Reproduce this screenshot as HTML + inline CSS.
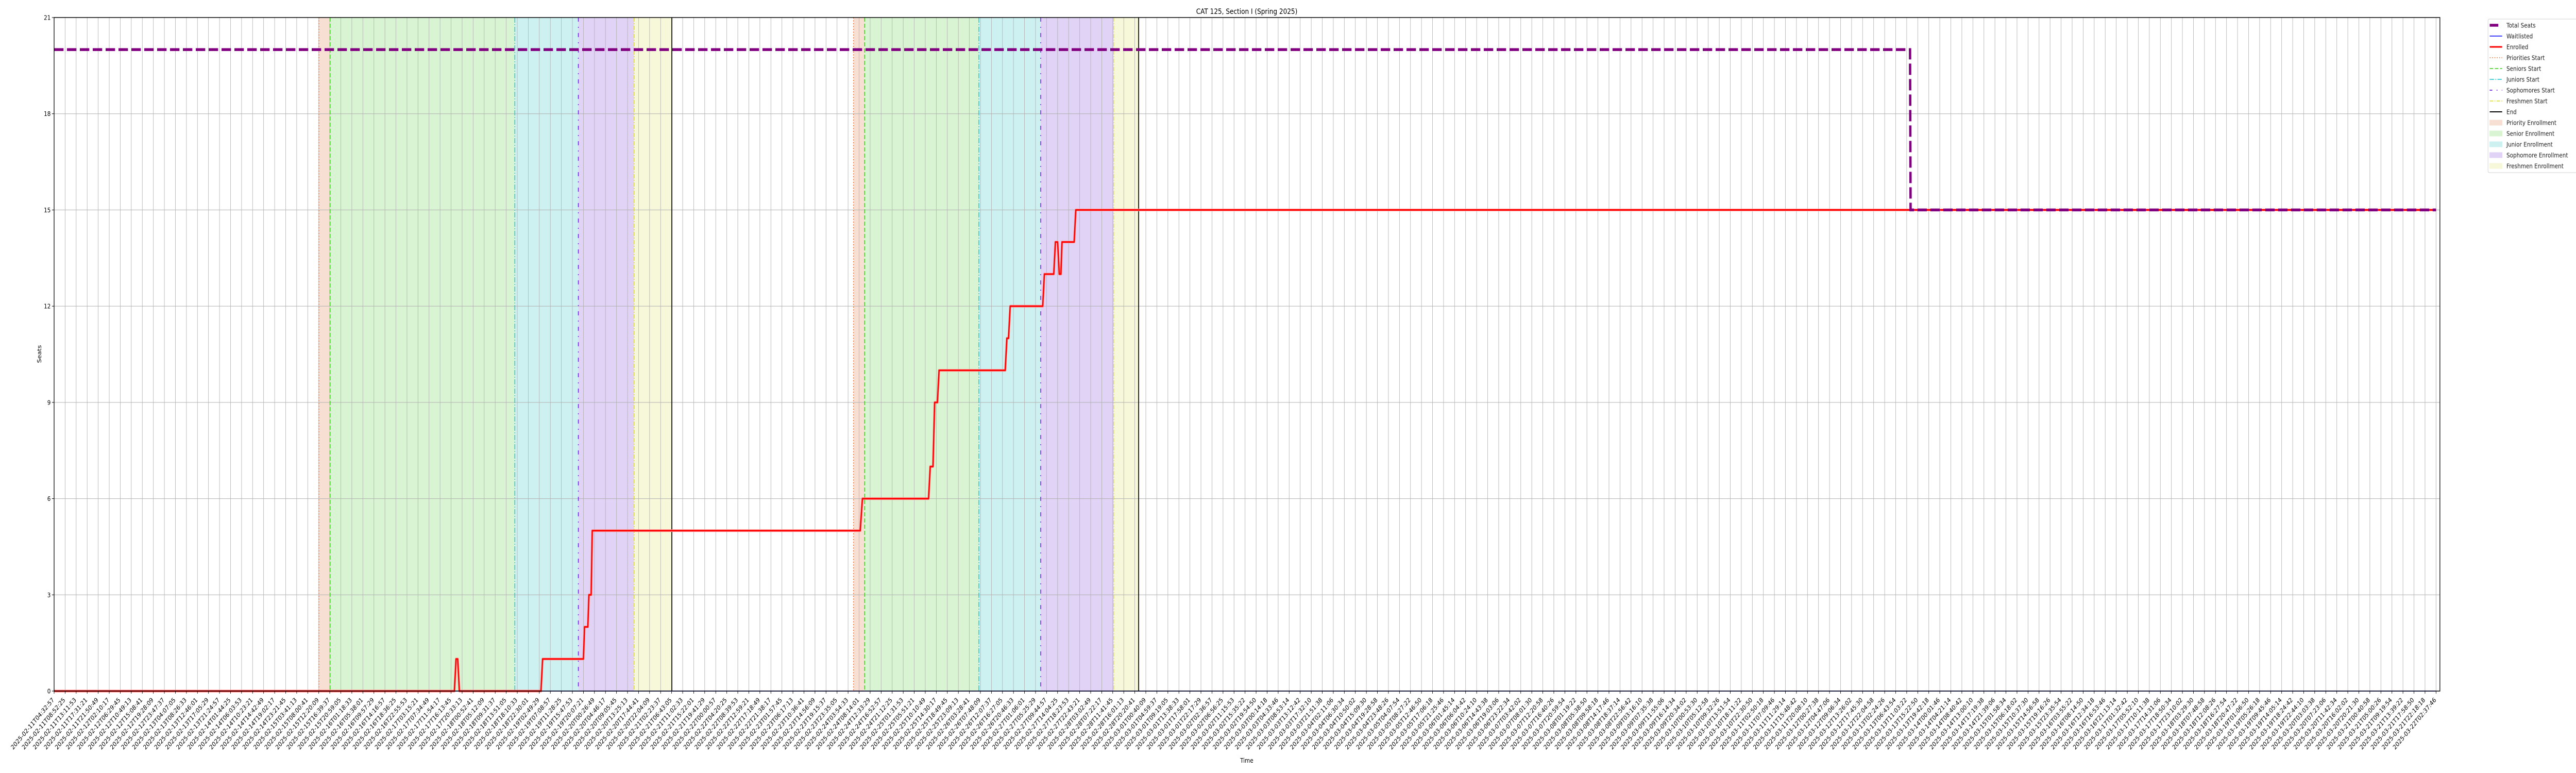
<!DOCTYPE html>
<html><head><meta charset="utf-8"><title>CAT 125 enrollment</title>
<style>
html,body{margin:0;padding:0;background:#fff;width:100%;height:100%;overflow:hidden;}
svg{display:block;position:fixed;left:0;top:0;width:100vw;height:100vh;font-family:"DejaVu Sans","Liberation Sans",sans-serif;}
</style></head>
<body>
<svg id="chart" viewBox="0 0 6000 1500" preserveAspectRatio="none" xmlns="http://www.w3.org/2000/svg">
<rect x="0" y="0" width="6000" height="1500" fill="#fff"/>
<g id="spans"></g>
<g id="grid"></g>
<g id="vlines"></g>
<g id="series"></g>
<g id="axes"></g>
<text x="2904" y="27" font-size="14.5" text-anchor="middle" fill="#000">CAT 125, Section I (Spring 2025)</text>
<text x="2904" y="1480" font-size="12.5" text-anchor="middle" fill="#000">Time</text>
<text x="0" y="0" font-size="12.5" text-anchor="middle" fill="#000" transform="translate(96,687) rotate(-90)">Seats</text>
<g id="legend"></g>
</svg>
<script>
// ---- data ----
const yTicks = [0, 3, 6, 9, 12, 15, 18, 21];
const tickCount = 217;
const startLabelTime = Date.UTC(2025, 1, 11, 4, 32, 57);
const endLabelTime = Date.UTC(2025, 2, 22, 2, 37, 46);
// x positions are in tick-index units
const seatsX = [0, 168.3, 168.35, 216];
const seatsY = [20, 20, 15, 15];
const waitX = [0, 216];
const waitY = [0, 0];
const enrolledX = [0, 36.3, 36.45, 36.6, 36.75, 44.15, 44.3, 48.0, 48.1, 48.4, 48.5, 48.7, 48.8, 73.1, 73.3, 79.3, 79.45, 79.7, 79.85, 80.1, 80.25, 86.25, 86.4, 86.55, 86.7, 89.65, 89.8, 90.65, 90.8, 91.0, 91.15, 91.3, 91.4, 92.5, 92.65, 216];
const enrolledY = [0, 0, 1, 1, 0, 0, 1, 1, 2, 2, 3, 3, 5, 5, 6, 6, 7, 7, 9, 9, 10, 10, 11, 11, 12, 12, 13, 13, 14, 14, 13, 13, 14, 14, 15, 15];
const phaseNames = ['priority', 'senior', 'junior', 'sophomore', 'freshmen'];
const cycle1Bounds = [24.02, 25.03, 41.78, 47.54, 52.6, 56.02];
const cycle2Bounds = [72.49, 73.5, 83.86, 89.47, 96.09, 98.35];

// ---- layout ----
const L = 126, R = 5683, T = 34, B = 1341;
const tickStep = (5674 - L) / 216;
const xS = i => L + i * tickStep;
const yS = v => B - v * (B - T) / 21;
const NS = 'http://www.w3.org/2000/svg';
function mk(tag, attrs, parent) {
  const e = document.createElementNS(NS, tag);
  for (const k in attrs) e.setAttribute(k, attrs[k]);
  parent.appendChild(e);
  return e;
}
const spanFill = ['#f7dfd3', '#d9f4d2', '#cdf0f1', '#e0d3f5', '#f7f7d9'];
const startStyle = [
  {c: '#f0672a', d: '2,3.5', w: 1.6},
  {c: '#33cc11', d: '8,4', w: 1.6},
  {c: '#11c4cc', d: '10,3,2,3', w: 1.6},
  {c: '#6a22dd', d: '8,10,2,10', w: 1.8},
  {c: '#dddd22', d: '8,3,2,3', w: 1.6}
];

const spans = document.getElementById('spans');
const vlines = document.getElementById('vlines');
[cycle1Bounds, cycle2Bounds].forEach((bounds, ci) => {
  for (let p = 0; p < 5; p++) {
    const r = mk('rect', {x: xS(bounds[p]), y: T, width: xS(bounds[p + 1]) - xS(bounds[p]), height: B - T, fill: spanFill[p]}, spans);
    
    
  }
});
const grid = document.getElementById('grid');
for (let i = 0; i < tickCount; i++) {
  const g = mk('line', {x1: xS(i), x2: xS(i), y1: T, y2: B, stroke: '#b0b0b0', 'stroke-width': 1}, grid);
  
  
}
yTicks.forEach(v => {
  const g = mk('line', {x1: L, x2: R, y1: yS(v), y2: yS(v), stroke: '#b0b0b0', 'stroke-width': 1}, grid);
  
  
});
[cycle1Bounds, cycle2Bounds].forEach((bounds, ci) => {
  for (let p = 0; p < 5; p++) {
    const s = startStyle[p];
    const l = mk('line', {x1: xS(bounds[p]), x2: xS(bounds[p]), y1: T, y2: B, stroke: s.c, 'stroke-width': s.w, 'stroke-dasharray': s.d}, vlines);
    
    
  }
  const e = mk('line', {x1: xS(bounds[5]), x2: xS(bounds[5]), y1: T, y2: B, stroke: '#000', 'stroke-width': 2}, vlines);
  
  
});

const series = document.getElementById('series');
function pts(xs, ys) { return xs.map((x, i) => xS(x).toFixed(2) + ',' + yS(ys[i]).toFixed(2)).join(' '); }
const halo = mk('polyline', {points: pts(enrolledX, enrolledY), fill: 'none', stroke: '#ff9a9a', 'stroke-width': 5, 'stroke-linejoin': 'round'}, series);


const wl = mk('polyline', {points: pts(waitX, waitY), fill: 'none', stroke: '#0000ff', 'stroke-width': 1.5}, series);


const en = mk('polyline', {points: pts(enrolledX, enrolledY), fill: 'none', stroke: '#ff0000', 'stroke-width': 3, 'stroke-linejoin': 'round'}, series);


const st = mk('polyline', {points: pts(seatsX, seatsY), fill: 'none', stroke: '#800080', 'stroke-width': 5.5, 'stroke-dasharray': '22,8'}, series);



const axes = document.getElementById('axes');
const frame = mk('rect', {x: L, y: T, width: R - L, height: B - T, fill: 'none', stroke: '#000', 'stroke-width': 1.5}, axes);


function pad(n) { return String(n).padStart(2, '0'); }
const stepMs = (endLabelTime - startLabelTime) / 216;
for (let i = 0; i < tickCount; i++) {
  const x = xS(i);
  const t = mk('line', {x1: x, x2: x, y1: B, y2: B + 5, stroke: '#000', 'stroke-width': 1}, axes);
  
  
  const d = new Date(startLabelTime + Math.round(i * stepMs / 1000) * 1000);
  const lab = d.getUTCFullYear() + '-' + pad(d.getUTCMonth() + 1) + '-' + pad(d.getUTCDate()) + 'T' + pad(d.getUTCHours()) + ':' + pad(d.getUTCMinutes()) + ':' + pad(d.getUTCSeconds());
  const tx = mk('text', {x: 0, y: 0, 'font-size': 12.5, 'text-anchor': 'end', fill: '#000', transform: 'translate(' + (x + 1).toFixed(2) + ',1359) rotate(-45)'}, axes);
  tx.textContent = lab;
  
  
}
yTicks.forEach(v => {
  const t = mk('line', {x1: L - 5, x2: L, y1: yS(v), y2: yS(v), stroke: '#000', 'stroke-width': 1}, axes);
  
  
  const tx = mk('text', {x: L - 8, y: yS(v) + 4.5, 'font-size': 12.5, 'text-anchor': 'end', fill: '#000'}, axes);
  tx.textContent = v;
  
  
});

// legend
const leg = document.getElementById('legend');
const lb = mk('rect', {x: 5795, y: 37, width: 230, height: 298, rx: 3, fill: '#fff', stroke: '#d0d0d0', 'stroke-width': 1}, leg);


const legItems = [
  {n: 'Total Seats', t: 'line', c: '#800080', w: 5.5, d: ''},
  {n: 'Waitlisted', t: 'line', c: '#0000ff', w: 1.5, d: ''},
  {n: 'Enrolled', t: 'line', c: '#ff0000', w: 3, d: ''},
  {n: 'Priorities Start', t: 'line', c: '#f0672a', w: 1.6, d: '2,3.5'},
  {n: 'Seniors Start', t: 'line', c: '#33cc11', w: 1.6, d: '8,4'},
  {n: 'Juniors Start', t: 'line', c: '#11c4cc', w: 1.6, d: '10,3,2,3'},
  {n: 'Sophomores Start', t: 'line', c: '#6a22dd', w: 1.8, d: '6,10,2,10'},
  {n: 'Freshmen Start', t: 'line', c: '#dddd22', w: 1.6, d: '8,3,2,3'},
  {n: 'End', t: 'line', c: '#000', w: 2, d: ''},
  {n: 'Priority Enrollment', t: 'box', c: spanFill[0]},
  {n: 'Senior Enrollment', t: 'box', c: spanFill[1]},
  {n: 'Junior Enrollment', t: 'box', c: spanFill[2]},
  {n: 'Sophomore Enrollment', t: 'box', c: spanFill[3]},
  {n: 'Freshmen Enrollment', t: 'box', c: spanFill[4]}
];
legItems.forEach((it, k) => {
  const cy = 49 + k * 21;
  const g = mk('g', {}, leg);
  
  
  if (it.t === 'line') {
    const a = {x1: 5799, x2: 5828, y1: cy, y2: cy, stroke: it.c, 'stroke-width': it.w};
    if (it.d) a['stroke-dasharray'] = it.d;
    if (k === 0) a.x2 = 5819;
    mk('line', a, g);
  } else {
    mk('rect', {x: 5799, y: cy - 5, width: 29, height: 10, fill: it.c, stroke: it.c}, g);
  }
  const tx = mk('text', {x: 5838, y: cy + 4.5, 'font-size': 12.5, fill: '#222'}, g);
  tx.textContent = it.n;
});
</script>
</body></html>
